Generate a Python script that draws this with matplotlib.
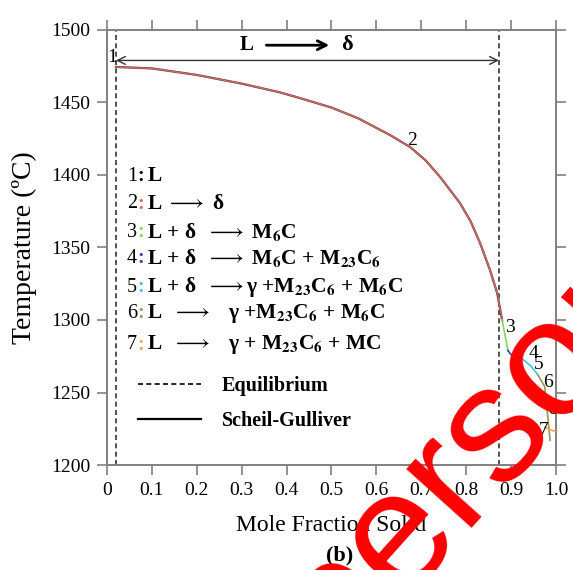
import matplotlib
matplotlib.use('Agg')
import matplotlib.pyplot as plt
from matplotlib.lines import Line2D

plt.rcParams['font.family'] = ['Liberation Serif', 'DejaVu Serif']
plt.rcParams['mathtext.fontset'] = 'stix'

# Scheil-Gulliver curve, segment by segment (mole fraction solid, temperature)
f_main = [0.02, 0.1, 0.2, 0.3, 0.385, 0.43, 0.5, 0.56, 0.63, 0.675, 0.71, 0.742,
          0.786, 0.81, 0.831, 0.853, 0.869, 0.88]
t_main = [1474.5, 1473.5, 1469, 1463, 1457, 1453, 1446.5, 1439, 1427.6, 1419.3, 1410, 1398.6,
          1380.7, 1368, 1353, 1334.5, 1318.6, 1300]
f_seg3 = [0.88, 0.893]
t_seg3 = [1300, 1279]
f_seg4 = [0.893, 0.90, 0.92]
t_seg4 = [1279, 1276, 1274.5]
f_seg5 = [0.92, 0.945, 0.96]
t_seg5 = [1274.5, 1268, 1262]
f_seg6 = [0.96, 0.975, 0.987]
t_seg6 = [1262, 1254, 1217]
f_seg7 = [0.975, 0.99, 1.0]
t_seg7 = [1226, 1224, 1223]

# equilibrium liquidus / end of L -> delta
eq_start = 0.02
eq_end = 0.873
arrow_T = 1479

seg_colors = ['black', '#e0625e', '#86d45c', '#3b3ba8', '#3fc4e4', '#9c9654', '#f2a55c']
arr = r'$\longrightarrow$'
reactions = ['L',
             'L ' + arr + ' δ',
             'L + δ  ' + arr + r' M$_\mathbf{6}$C',
             'L + δ  ' + arr + r' M$_\mathbf{6}$C + M$_\mathbf{23}$C$_\mathbf{6}$',
             'L + δ  ' + arr + r'γ +M$_\mathbf{23}$C$_\mathbf{6}$ + M$_\mathbf{6}$C',
             'L  ' + arr + r'   γ +M$_\mathbf{23}$C$_\mathbf{6}$ + M$_\mathbf{6}$C',
             'L  ' + arr + r'   γ + M$_\mathbf{23}$C$_\mathbf{6}$ + MC']
react_T = [1399, 1380, 1360.5, 1342.5, 1322.5, 1304.5, 1283]

# curve labels
lab_text = ['1', '2', '3', '4', '5', '6', '6', '7']
lab_f = [0.012, 0.68, 0.898, 0.95, 0.962, 0.982, 0.992, 0.972]
lab_T = [1481, 1424, 1295, 1277, 1269, 1257, 1238, 1224]

fig = plt.figure(figsize=(5.73, 5.70), dpi=100)
ax = fig.add_axes([0.1867, 0.1842, 0.7836, 0.7632])

ax.plot(f_main, t_main, color='#444444', lw=1.6, zorder=3)
ax.plot(f_main, t_main, color=seg_colors[1], lw=1.0, zorder=4)
ax.plot(f_seg3, t_seg3, color=seg_colors[2], lw=1.2, zorder=4)
ax.plot(f_seg4, t_seg4, color=seg_colors[3], lw=1.2, zorder=4)
ax.plot(f_seg5, t_seg5, color=seg_colors[4], lw=1.2, zorder=4)
ax.plot(f_seg6, t_seg6, color=seg_colors[5], lw=1.2, zorder=4)
ax.plot(f_seg7, t_seg7, color=seg_colors[6], lw=1.2, zorder=4)

ax.axvline(eq_start, color='#333333', ls=(0, (3, 2)), lw=1.2)
ax.axvline(eq_end, color='#333333', ls=(0, (3, 2)), lw=1.2)

ax.annotate('', xy=(eq_start, arrow_T), xytext=(eq_end, arrow_T),
            arrowprops=dict(arrowstyle='<->', color='#333333', lw=1.0,
                            mutation_scale=14, shrinkA=0, shrinkB=0))
ax.text(0.312, 1489.5, 'L', fontsize=15, fontweight='bold', ha='center', va='center')
ax.annotate('', xy=(0.495, 1489.5), xytext=(0.355, 1489.5),
            arrowprops=dict(arrowstyle='->', color='black', lw=2.0,
                            mutation_scale=16, shrinkA=0, shrinkB=0))
ax.text(0.535, 1489.5, 'δ', fontsize=16, fontweight='bold', ha='center', va='center')

for i in range(len(reactions)):
    ax.text(0.044, react_T[i], str(i + 1), fontsize=14.5, ha='left', va='center')
    ax.text(0.067, react_T[i], ':', fontsize=14.5, fontweight='bold', color=seg_colors[i],
            ha='left', va='center')
    ax.text(0.09, react_T[i], reactions[i], fontsize=15.5, fontweight='bold',
            ha='left', va='center')

for s, x, y in zip(lab_text, lab_f, lab_T):
    ax.text(x, y, s, fontsize=14, ha='center', va='center', zorder=5)

handles = [Line2D([], [], color='black', ls=(0, (3, 2)), lw=1.2),
           Line2D([], [], color='black', lw=1.6)]
ax.legend(handles, ['Equilibrium', 'Scheil-Gulliver'], loc='upper left',
          bbox_to_anchor=(0.051, 0.222), frameon=False, handlelength=3.15,
          handletextpad=1.0, labelspacing=0.7, borderaxespad=0,
          prop={'weight': 'bold', 'size': 14.5})

ax.set_xlim(0, 1.0)
ax.set_ylim(1200, 1500)
ax.set_xticks([0, 0.1, 0.2, 0.3, 0.4, 0.5, 0.6, 0.7, 0.8, 0.9, 1.0])
ax.set_xticklabels(['0', '0.1', '0.2', '0.3', '0.4', '0.5', '0.6', '0.7', '0.8', '0.9', '1.0'])
ax.set_yticks([1200, 1250, 1300, 1350, 1400, 1450, 1500])
ax.tick_params(direction='out', length=7, width=1.2, color='#808080', labelsize=14,
               top=True, right=True, pad=5)
for sp in ax.spines.values():
    sp.set_color('#808080')
    sp.set_linewidth(1.4)

ax.set_xlabel('Mole Fraction Solid', fontsize=17, labelpad=12)
ax.set_ylabel('Temperature (ºC)', fontsize=20, labelpad=10)
fig.text(0.593, 0.026, '(b)', fontsize=16, fontweight='bold', ha='center', va='center')

# red watermark across the lower right
fig.text(0.589, -0.168, 'personal', fontsize=120, color='#ff0000',
         family='Liberation Sans', rotation=48, rotation_mode='anchor',
         ha='left', va='baseline', zorder=10)

fig.savefig('out.png', dpi=100)
